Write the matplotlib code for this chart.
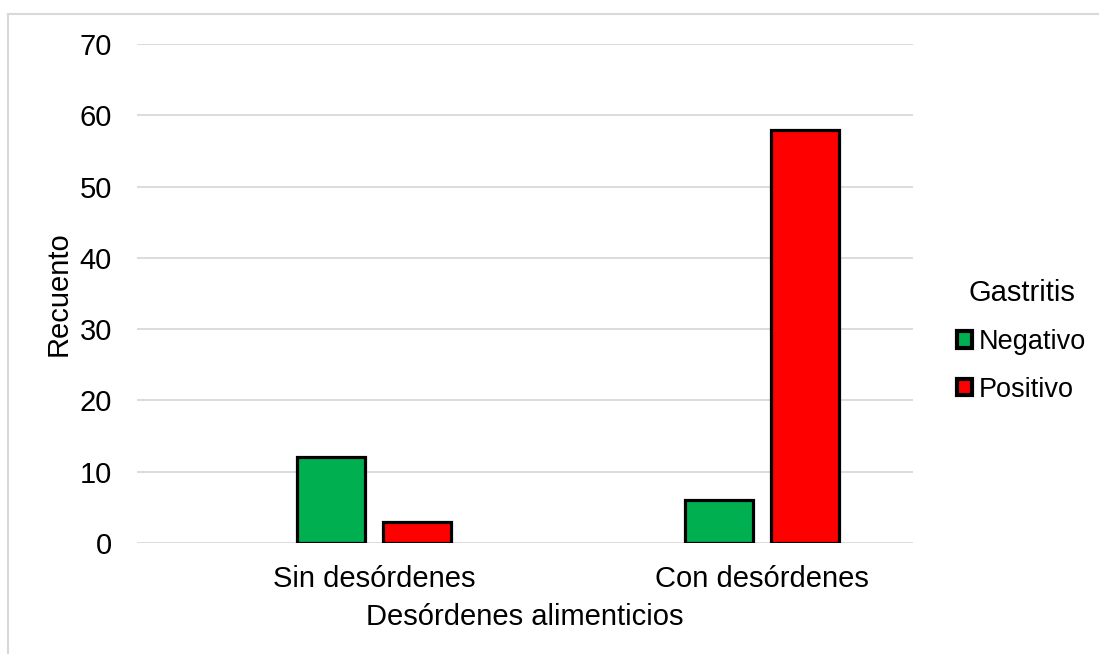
import matplotlib
matplotlib.use("Agg")
import matplotlib.pyplot as plt
from matplotlib.lines import Line2D
import numpy as np

plt.rcParams['font.family'] = ['Liberation Sans', 'DejaVu Sans']

categories = ["Sin desórdenes", "Con desórdenes"]
series_names = ["Negativo", "Positivo"]
negativo = [12, 6]
positivo = [3, 58]
colors = ["#00B050", "#FF0000"]
yticks = [0, 10, 20, 30, 40, 50, 60, 70]

fig = plt.figure(figsize=(10.99, 6.54), dpi=100)
ax = fig.add_axes([137/1099, 111/654, 776/1099, 499/654])

x = np.arange(len(categories))
w = 0.175
off = 0.111
for vals, name, c, o in zip([negativo, positivo], series_names, colors, [-off, off]):
    ax.bar(x + o, vals, width=w, color=c, edgecolor="black", linewidth=2.3,
           label=name, zorder=3)

fs = 21
ax.set_ylim(0, 70)
ax.set_xlim(-0.611, 0.389 + 1)
ax.set_yticks(yticks)
ax.set_xticks(x)
ax.set_xticklabels(categories)
ax.yaxis.grid(True, color="#d9d9d9", linewidth=1.3, zorder=0)
ax.set_axisbelow(True)
for s in ax.spines.values():
    s.set_visible(False)
ax.tick_params(axis="both", length=0, labelsize=fs, colors="black")
ax.tick_params(axis="y", pad=18)
ax.tick_params(axis="x", pad=16)
ax.set_xlabel("Desórdenes alimenticios", fontsize=fs, labelpad=7)
ax.set_ylabel("Recuento", fontsize=fs, labelpad=5)

leg = ax.legend(title="Gastritis", loc="center left", bbox_to_anchor=(1.043, 0.405),
                frameon=False, fontsize=19.5, title_fontsize=21,
                handlelength=0.55, handleheight=0.55, handletextpad=0.25,
                labelspacing=0.8, borderaxespad=0)
leg._legend_box.sep = 16
for h in leg.legend_handles:
    h.set_linewidth(3)

fig.add_artist(Line2D([8/1099, 1.0], [1 - 14/654, 1 - 14/654], transform=fig.transFigure,
                      color="#d9d9d9", linewidth=1.5))
fig.add_artist(Line2D([8/1099, 8/1099], [0, 1 - 14/654], transform=fig.transFigure,
                      color="#d9d9d9", linewidth=1.5))

fig.savefig("out.png", dpi=100)
